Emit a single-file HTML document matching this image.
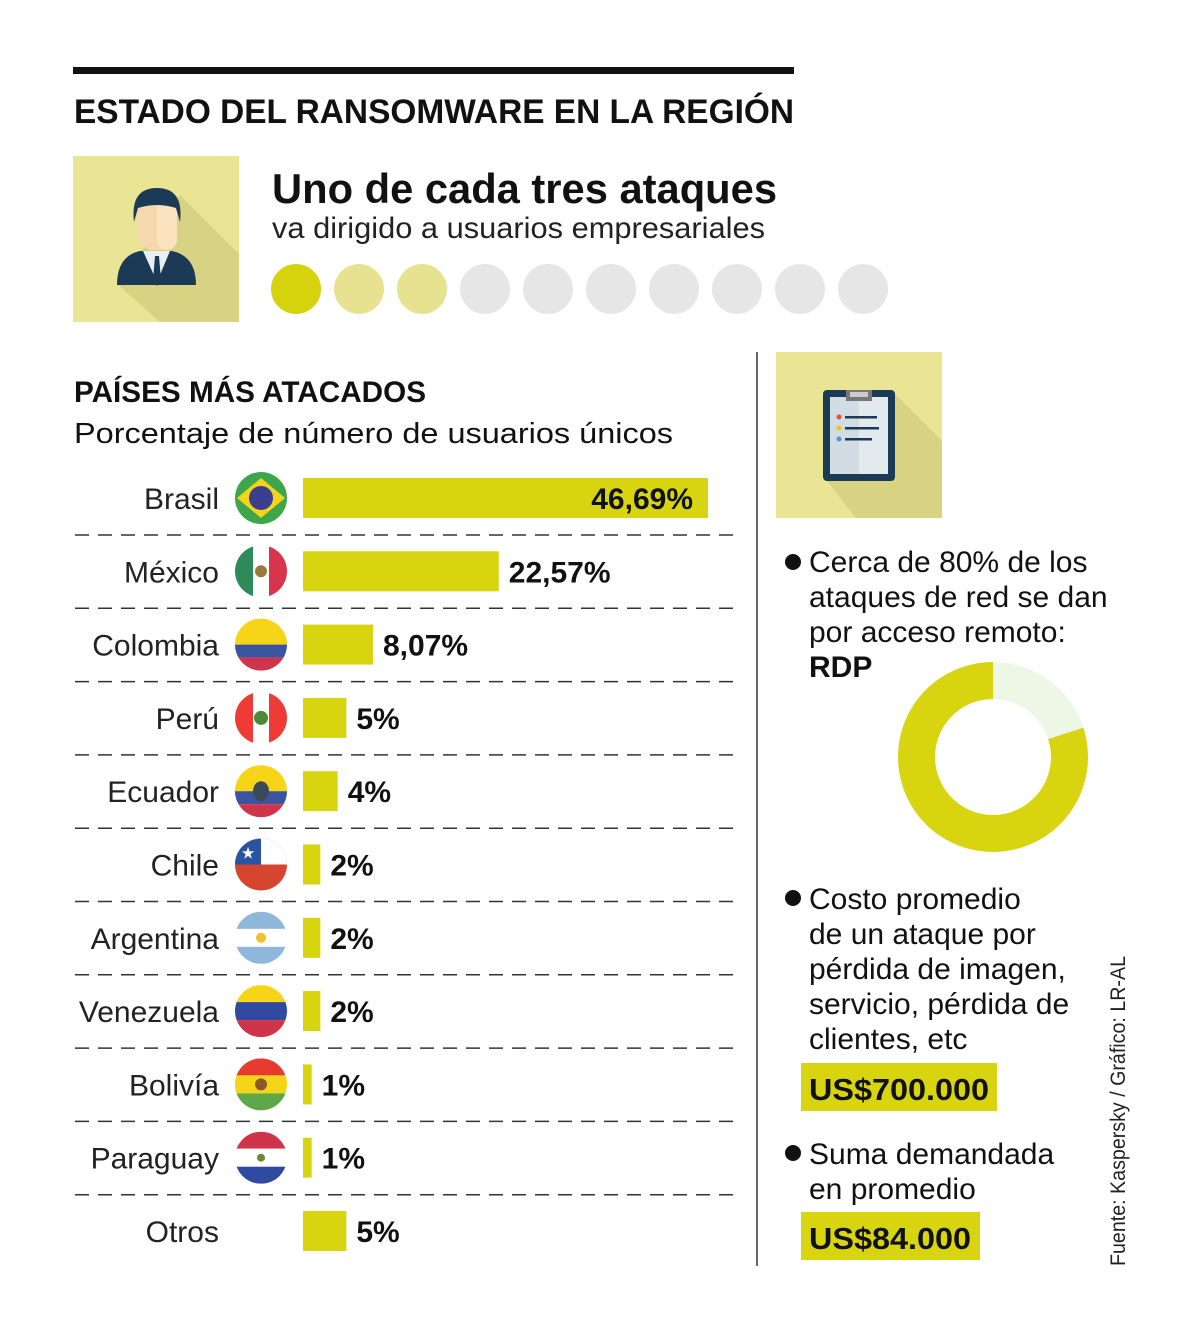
<!DOCTYPE html>
<html><head><meta charset="utf-8">
<style>
body{margin:0;background:#fff;}
svg text{font-family:"Liberation Sans",sans-serif;}
</style></head>
<body>
<svg width="1200" height="1332" viewBox="0 0 1200 1332" xmlns="http://www.w3.org/2000/svg">
<defs>
<clipPath id="c"><circle cx="0" cy="0" r="26"/></clipPath>
<clipPath id="b1"><rect x="73" y="156" width="166" height="166"/></clipPath>
<clipPath id="b2"><rect x="776" y="352" width="166" height="166"/></clipPath>
</defs>
<rect x="73" y="67" width="721" height="7" fill="#111"/>
<text x="74" y="123" font-size="34" font-weight="bold" fill="#111" textLength="720" lengthAdjust="spacingAndGlyphs">ESTADO DEL RANSOMWARE EN LA REGIÓN</text>

<g clip-path="url(#b1)">
<rect x="73" y="156" width="166" height="166" fill="#e9e595"/>
<polygon points="180,195 239,254 239,322 160,322 118,285" fill="#d8d283"/>
<path d="M117 285 Q117 256 140 251 L172 251 Q196 256 196 285 Z" fill="#1b3a55"/>
<polygon points="143,251 170,251 157,282" fill="#e8eef2"/>
<polygon points="155,256 159,256 161,280 157,286 153,280" fill="#1b3a55"/>
<rect x="137" y="196" width="40" height="54" rx="17" fill="#f5d8ae"/>
<rect x="157" y="196" width="20" height="54" rx="10" fill="#fbe3bf"/>
<path d="M134 222 Q130 188 157 188 Q184 188 180 222 L176 208 Q157 202 138 208 Z" fill="#1b3a55"/>
</g>

<text x="272" y="203" font-size="42" font-weight="bold" fill="#111" textLength="505" lengthAdjust="spacingAndGlyphs">Uno de cada tres ataques</text>
<text x="272" y="238" font-size="30" fill="#222" textLength="493" lengthAdjust="spacingAndGlyphs">va dirigido a usuarios empresariales</text>
<g id="dots"></g>

<text x="74" y="402" font-size="30" font-weight="bold" fill="#111" textLength="352" lengthAdjust="spacingAndGlyphs">PAÍSES MÁS ATACADOS</text>
<text x="74" y="443" font-size="29" fill="#111" textLength="599" lengthAdjust="spacingAndGlyphs">Porcentaje de número de usuarios únicos</text>
<g id="chart"></g>

<line x1="757" y1="352" x2="757" y2="1266" stroke="#333" stroke-width="1.5"/>

<g clip-path="url(#b2)">
<rect x="776" y="352" width="166" height="166" fill="#e9e595"/>
<polygon points="893,392 942,441 942,518 856,518 825,478" fill="#d8d283"/>
<rect x="823" y="390" width="72" height="91" rx="4" fill="#1b3a55"/>
<rect x="830" y="397" width="29" height="77" fill="#d2dde3"/>
<rect x="859" y="397" width="29" height="77" fill="#e3eaee"/>
<rect x="846" y="390" width="26" height="11" fill="#777"/>
<rect x="850" y="392" width="18" height="5" fill="#ccc"/>
<circle cx="839" cy="417" r="2.5" fill="#e74c3c"/><rect x="845" y="416" width="32" height="2.5" fill="#1b3a55"/>
<circle cx="839" cy="428" r="2.5" fill="#f1c40f"/><rect x="845" y="427" width="34" height="2.5" fill="#1b3a55"/>
<circle cx="839" cy="439" r="2.5" fill="#5b8fd0"/><rect x="845" y="438" width="27" height="2.5" fill="#1b3a55"/>
</g>

<g font-size="30" fill="#111">
<circle cx="793" cy="562" r="8" fill="#111"/>
<text x="809" y="572">Cerca de 80% de los</text>
<text x="809" y="607">ataques de red se dan</text>
<text x="809" y="642">por acceso remoto:</text>
<text x="809" y="677" font-weight="bold">RDP</text>
</g>
<g id="donut"></g>

<g font-size="30" fill="#111">
<circle cx="793" cy="898" r="8" fill="#111"/>
<text x="809" y="909">Costo promedio</text>
<text x="809" y="944">de un ataque por</text>
<text x="809" y="979">pérdida de imagen,</text>
<text x="809" y="1014">servicio, pérdida de</text>
<text x="809" y="1049">clientes, etc</text>
</g>
<rect x="801" y="1063" width="196" height="48" fill="#d8d40f"/>
<text x="809" y="1100" font-size="31" font-weight="bold" fill="#111" textLength="180" lengthAdjust="spacingAndGlyphs">US$700.000</text>

<g font-size="30" fill="#111">
<circle cx="793" cy="1153" r="8" fill="#111"/>
<text x="809" y="1164">Suma demandada</text>
<text x="809" y="1199">en promedio</text>
</g>
<rect x="801" y="1212" width="179" height="48" fill="#d8d40f"/>
<text x="809" y="1249" font-size="31" font-weight="bold" fill="#111" textLength="162" lengthAdjust="spacingAndGlyphs">US$84.000</text>

<text transform="translate(1125,1266) rotate(-90)" font-size="21" fill="#222" textLength="310" lengthAdjust="spacingAndGlyphs">Fuente: Kaspersky / Gráfico: LR-AL</text>
</svg>
<script>
const countries=["Brasil","México","Colombia","Perú","Ecuador","Chile","Argentina","Venezuela","Bolivía","Paraguay","Otros"];
const values=[46.69,22.57,8.07,5,4,2,2,2,1,1,5];
const valueLabels=["46,69%","22,57%","8,07%","5%","4%","2%","2%","2%","1%","1%","5%"];
const dotsFilled=[1];
const dotsCount=[10];
const rdpShare=[80,20];

const NS="http://www.w3.org/2000/svg";
function el(t,a,p){const e=document.createElementNS(NS,t);for(const k in a)e.setAttribute(k,a[k]);p.appendChild(e);return e;}

const dg=document.getElementById('dots');
for(let i=0;i<dotsCount[0];i++){
 const c=el('circle',{cx:296+i*63,cy:289,r:25,fill:i<dotsFilled[0]?'#d6d20e':(i<3?'#e6e28f':'#e6e6e6')},dg);
 
 
}

const x0=303, scale=405/46.69, y0=498, step=73.3;
const xs=v=>v*scale;
const ys=i=>y0+i*step;
const flags=[
 g=>{el('rect',{x:-26,y:-26,width:52,height:52,fill:'#3ea64a'},g);el('polygon',{points:'0,-20 24,0 0,20 -24,0',fill:'#f4d31c'},g);el('circle',{r:12,fill:'#3b3e8e'},g);},
 g=>{el('rect',{x:-26,y:-26,width:18,height:52,fill:'#2f8a5a'},g);el('rect',{x:-8,y:-26,width:16,height:52,fill:'#fff'},g);el('rect',{x:8,y:-26,width:18,height:52,fill:'#d8344b'},g);el('circle',{r:6,fill:'#9a7a3a'},g);},
 g=>{el('rect',{x:-26,y:-26,width:52,height:26,fill:'#f6d417'},g);el('rect',{x:-26,y:0,width:52,height:13,fill:'#3b54a0'},g);el('rect',{x:-26,y:13,width:52,height:13,fill:'#d0344b'},g);},
 g=>{el('rect',{x:-26,y:-26,width:18,height:52,fill:'#ef3b35'},g);el('rect',{x:-8,y:-26,width:16,height:52,fill:'#fff'},g);el('rect',{x:8,y:-26,width:18,height:52,fill:'#ef3b35'},g);el('circle',{r:7,fill:'#4a8a3a'},g);},
 g=>{el('rect',{x:-26,y:-26,width:52,height:26,fill:'#f6d417'},g);el('rect',{x:-26,y:0,width:52,height:13,fill:'#3b54a0'},g);el('rect',{x:-26,y:13,width:52,height:13,fill:'#d0344b'},g);el('ellipse',{rx:8,ry:10,fill:'#3b4a5a'},g);},
 g=>{el('rect',{x:-26,y:-26,width:52,height:52,fill:'#d64530'},g);el('rect',{x:-26,y:-26,width:52,height:26,fill:'#fff'},g);el('rect',{x:-26,y:-26,width:26,height:26,fill:'#2a54a0'},g);el('text',{x:-13,y:-6,'font-size':16,fill:'#fff','text-anchor':'middle'},g).textContent='★';},
 g=>{el('rect',{x:-26,y:-26,width:52,height:52,fill:'#fff'},g);el('rect',{x:-26,y:-26,width:52,height:17,fill:'#8fb7dc'},g);el('rect',{x:-26,y:9,width:52,height:17,fill:'#8fb7dc'},g);el('circle',{r:5,fill:'#f0c030'},g);},
 g=>{el('rect',{x:-26,y:-26,width:52,height:17,fill:'#f6d417'},g);el('rect',{x:-26,y:-9,width:52,height:18,fill:'#2f4aa0'},g);el('rect',{x:-26,y:9,width:52,height:17,fill:'#d0344b'},g);},
 g=>{el('rect',{x:-26,y:-26,width:52,height:17,fill:'#e63a2f'},g);el('rect',{x:-26,y:-9,width:52,height:18,fill:'#f6d417'},g);el('rect',{x:-26,y:9,width:52,height:17,fill:'#5fa84a'},g);el('circle',{r:6,fill:'#8a5a2a'},g);},
 g=>{el('rect',{x:-26,y:-26,width:52,height:17,fill:'#d0344b'},g);el('rect',{x:-26,y:-9,width:52,height:18,fill:'#fff'},g);el('rect',{x:-26,y:9,width:52,height:17,fill:'#2f4aa0'},g);el('circle',{r:4,fill:'#6a8a3a'},g);},
 null
];
const ch=document.getElementById('chart');
countries.forEach((c,i)=>{
 const y=ys(i);
 const row=el('g',{},ch);
 
 
 const lab=el('text',{x:219,y:y+11,'font-size':30,fill:'#222','text-anchor':'end'},row);lab.textContent=c;
 
 
 if(flags[i]){const fg=el('g',{transform:`translate(261,${y})`},row);const inner=el('g',{'clip-path':'url(#c)'},fg);flags[i](inner);
  
  }
 const w=xs(values[i]);
 const bar=el('rect',{x:x0,y:y-20,width:w,height:40,fill:'#d8d40f'},row);
 
 
 const inside=w>300;
 const vt=el('text',{x:inside?x0+w-15:x0+w+10,y:y+11,'font-size':30,'font-weight':'bold',fill:'#111','text-anchor':inside?'end':'start'},row);
 vt.textContent=valueLabels[i];
 
 
 if(i<countries.length-1){const ln=el('line',{x1:75,y1:y+37,x2:737,y2:y+37,stroke:'#333','stroke-width':1.5,'stroke-dasharray':'14 9'},row);
  
  }
});

const dn=document.getElementById('donut');
const cx=993,cy=757,R=95,r=58;
let a0=0;const tot=rdpShare[0]+rdpShare[1];
[[rdpShare[1],'#eef6e6'],[rdpShare[0],'#d8d40f']].forEach(([v,col],k)=>{
 const a1=a0+v/tot*2*Math.PI;
 const p=(rad,a)=>[cx+rad*Math.sin(a),cy-rad*Math.cos(a)];
 const [x1,y1]=p(R,a0),[x2,y2]=p(R,a1),[x3,y3]=p(r,a1),[x4,y4]=p(r,a0);
 const lg=(a1-a0)>Math.PI?1:0;
 const s=el('path',{d:`M${x1} ${y1}A${R} ${R} 0 ${lg} 1 ${x2} ${y2}L${x3} ${y3}A${r} ${r} 0 ${lg} 0 ${x4} ${y4}Z`,fill:col},dn);
 
 
 a0=a1;
});
</script>
</body></html>
